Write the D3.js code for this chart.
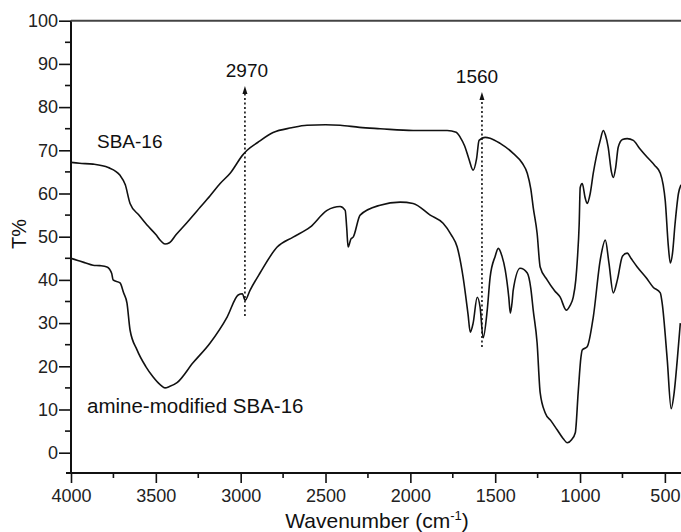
<!DOCTYPE html>
<html>
<head>
<meta charset="utf-8">
<script src="https://cdn.jsdelivr.net/npm/d3@7"></script>
<style>
    body { margin: 0; background: #fff; }
    svg { display: block; font-family: 'Liberation Sans', Arial, sans-serif; }
</style>
</head>
<body>
<svg id="chart" width="681" height="532"></svg>
<script>
// SBA-16 spectrum (wavenumber, T%)
var sbaWave = [4000, 3950, 3870, 3780, 3711, 3680, 3652, 3600, 3552, 3500, 3470, 3446, 3420, 3380, 3316, 3239, 3180, 3121, 3062, 2986, 2962, 2900, 2809, 2700, 2609, 2500, 2414, 2300, 2178, 1984, 1783, 1730, 1706, 1680, 1655, 1630, 1610, 1595, 1560, 1530, 1471, 1394, 1340, 1311, 1290, 1276, 1253, 1235, 1194, 1150, 1117, 1081, 1060, 1040, 1025, 1016, 1005, 999, 987, 970, 958, 940, 922, 881, 863, 850, 834, 815, 804, 790, 775, 750, 722, 686, 650, 604, 560, 527, 510, 498, 480, 468, 455, 440, 420, 405];
var sbaT = [67.2, 67.0, 66.8, 66.0, 64.2, 62.0, 57.7, 55.0, 52.7, 50.5, 49.0, 48.3, 48.6, 50.5, 53.3, 56.8, 59.5, 62.3, 64.7, 69.0, 70.0, 71.8, 74.1, 75.2, 75.8, 75.9, 75.8, 75.3, 75.0, 74.6, 74.6, 74.2, 73.0, 71.0, 68.0, 65.4, 68.0, 72.3, 73.0, 72.8, 71.6, 69.3, 67.0, 64.7, 61.0, 56.8, 50.8, 43.0, 40.0, 37.5, 36.0, 33.0, 34.0, 36.0, 40.0, 44.6, 53.0, 61.4, 62.3, 59.0, 57.7, 60.0, 64.7, 72.3, 74.6, 73.5, 70.7, 65.0, 63.7, 66.0, 70.7, 72.5, 72.7, 72.3, 70.5, 68.4, 66.5, 64.7, 62.0, 58.4, 48.0, 43.9, 46.2, 53.0, 60.0, 62.0];

// amine-modified SBA-16 spectrum
var amineWave = [4000, 3960, 3920, 3870, 3830, 3788, 3760, 3752, 3711, 3690, 3670, 3652, 3611, 3560, 3517, 3470, 3446, 3420, 3375, 3281, 3180, 3080, 3015, 2990, 2974, 2945, 2886, 2785, 2691, 2591, 2491, 2414, 2384, 2375, 2367, 2350, 2337, 2296, 2178, 2060, 1984, 1883, 1807, 1760, 1724, 1689, 1660, 1647, 1630, 1606, 1589, 1571, 1547, 1530, 1500, 1482, 1460, 1441, 1420, 1411, 1400, 1394, 1353, 1311, 1290, 1276, 1253, 1235, 1205, 1170, 1135, 1100, 1075, 1050, 1028, 1011, 995, 987, 958, 922, 881, 851, 830, 804, 780, 750, 722, 700, 663, 610, 569, 527, 516, 486, 463, 445, 427, 409];
var amineT = [45.0, 44.5, 44.0, 43.4, 43.3, 43.0, 41.5, 40.0, 39.3, 37.0, 34.6, 28.4, 23.8, 20.0, 17.6, 15.6, 15.0, 15.3, 16.2, 20.8, 25.4, 31.4, 36.5, 36.8, 35.3, 37.6, 41.6, 47.6, 49.9, 52.2, 56.1, 57.0, 56.1, 52.0, 47.6, 49.5, 49.9, 55.0, 57.3, 58.0, 57.7, 55.0, 53.1, 50.5, 47.6, 40.6, 32.0, 27.9, 30.0, 36.0, 33.7, 26.6, 33.0, 40.6, 45.5, 47.3, 45.5, 42.3, 36.0, 32.3, 35.0, 37.6, 42.7, 41.6, 38.0, 33.0, 25.4, 13.9, 9.2, 7.3, 5.3, 3.3, 2.3, 3.0, 4.6, 13.9, 22.0, 23.8, 24.5, 31.4, 44.6, 49.2, 44.0, 37.0, 40.0, 45.5, 46.2, 45.0, 43.0, 40.5, 38.3, 37.0, 34.6, 21.5, 10.2, 14.0, 21.5, 30.0];

var seriesLabels = ['SBA-16', 'amine-modified SBA-16'];
var xTicks = [4000, 3500, 3000, 2500, 2000, 1500, 1000, 500];
var yTicks = [0, 10, 20, 30, 40, 50, 60, 70, 80, 90, 100];
// peak markers: position on the axis, printed label
var peakWave = [2975, 1578];
var peakLabels = ['2970', '1560'];

var svg = d3.select('#chart');

var plotLeft = 71;
var plotRight = 681;
var plotTop = 20.7;
var plotBottom = 473;

var x = d3.scaleLinear()
    .domain([4000, 405])
    .range([plotLeft, plotRight]);

var y = d3.scaleLinear()
    .domain([-4.7, 100])
    .range([plotBottom, plotTop]);

svg.append('defs')
    .append('clipPath')
    .attr('id', 'plot-clip')
    .append('rect')
    .attr('x', plotLeft)
    .attr('y', plotTop)
    .attr('width', plotRight - plotLeft)
    .attr('height', plotBottom - plotTop);

// minor ticks
var xMinor = d3.range(3750, 400, -500);
var yMinor = d3.range(5, 100, 10);

svg.selectAll('.x-minor')
    .data(xMinor)
    .enter()
    .append('line')
    .attr('class', 'x-minor')
    .attr('x1', function (d) { return x(d); })
    .attr('x2', function (d) { return x(d); })
    .attr('y1', plotBottom)
    .attr('y2', plotBottom + 5)
    .attr('stroke', '#111')
    .attr('stroke-width', 1.6);

svg.selectAll('.y-minor')
    .data(yMinor)
    .enter()
    .append('line')
    .attr('class', 'y-minor')
    .attr('x1', plotLeft - 6)
    .attr('x2', plotLeft)
    .attr('y1', function (d) { return y(d); })
    .attr('y2', function (d) { return y(d); })
    .attr('stroke', '#111')
    .attr('stroke-width', 1.6);

// axes
var xAxis = d3.axisBottom(x)
    .tickValues(xTicks)
    .tickFormat(d3.format('d'))
    .tickSize(10)
    .tickPadding(6)
    .tickSizeOuter(0);

var yAxis = d3.axisLeft(y)
    .tickValues(yTicks)
    .tickFormat(d3.format('d'))
    .tickSize(12)
    .tickPadding(1)
    .tickSizeOuter(0);

var gx = svg.append('g')
    .attr('transform', `translate(0, ${plotBottom})`)
    .call(xAxis);

var gy = svg.append('g')
    .attr('transform', `translate(${plotLeft}, 0)`)
    .call(yAxis);

[gx, gy].forEach(function (g) {
    g.select('.domain').remove();
    g.selectAll('.tick line')
        .attr('stroke', '#111')
        .attr('stroke-width', 1.6);
    g.selectAll('.tick text')
        .attr('fill', '#222')
        .style('font-family', "'Liberation Sans', Arial, sans-serif")
        .style('font-size', '18px');
});

// axis lines and top frame
svg.append('line')
    .attr('x1', plotLeft - 5)
    .attr('x2', plotRight)
    .attr('y1', plotBottom)
    .attr('y2', plotBottom)
    .attr('stroke', '#111')
    .attr('stroke-width', 2);

svg.append('line')
    .attr('x1', plotLeft)
    .attr('x2', plotLeft)
    .attr('y1', plotTop)
    .attr('y2', plotBottom)
    .attr('stroke', '#111')
    .attr('stroke-width', 2);

svg.append('line')
    .attr('x1', plotLeft)
    .attr('x2', plotRight)
    .attr('y1', plotTop)
    .attr('y2', plotTop)
    .attr('stroke', '#444')
    .attr('stroke-width', 2);

// spectra
var line = d3.line()
    .x(function (d) { return x(d[0]); })
    .y(function (d) { return y(d[1]); })
    .curve(d3.curveMonotoneX);

var spectra = [
    d3.zip(sbaWave, sbaT),
    d3.zip(amineWave, amineT)
];

svg.append('g')
    .attr('clip-path', 'url(#plot-clip)')
    .selectAll('.spectrum')
    .data(spectra)
    .enter()
    .append('path')
    .attr('class', 'spectrum')
    .attr('fill', 'none')
    .attr('stroke', '#111')
    .attr('stroke-width', 1.6)
    .attr('stroke-linejoin', 'round')
    .attr('d', line);

// series labels
svg.append('text')
    .attr('x', 97)
    .attr('y', 148)
    .attr('font-size', '19px')
    .attr('fill', '#111')
    .text(seriesLabels[0]);

svg.append('text')
    .attr('x', 87)
    .attr('y', 413)
    .attr('font-size', '20.5px')
    .attr('fill', '#111')
    .text(seriesLabels[1]);

// peak markers: dotted line with arrow head
var peakTip = [86, 92];
var peakEnd = [316, 347];
var peakTextY = [77, 83];
var peakTextDx = [2, -5];

peakWave.forEach(function (w, i) {
    var px = x(w);

    svg.append('line')
        .attr('x1', px)
        .attr('x2', px)
        .attr('y1', peakEnd[i])
        .attr('y2', peakTip[i] + 6)
        .attr('stroke', '#111')
        .attr('stroke-width', 1.6)
        .attr('stroke-dasharray', '2,2.5');

    svg.append('path')
        .attr('d', `M${px},${peakTip[i]} L${px + 2.5},${peakTip[i] + 8} L${px - 2.5},${peakTip[i] + 8} Z`)
        .attr('fill', '#111');

    svg.append('text')
        .attr('x', px + peakTextDx[i])
        .attr('y', peakTextY[i])
        .attr('text-anchor', 'middle')
        .attr('font-size', '19px')
        .attr('fill', '#111')
        .text(peakLabels[i]);
});

// axis titles
svg.append('text')
    .attr('transform', 'translate(26, 234) rotate(-90)')
    .attr('text-anchor', 'middle')
    .attr('font-size', '20px')
    .attr('fill', '#111')
    .text('T%');

var xTitle = svg.append('text')
    .attr('x', 377)
    .attr('y', 528)
    .attr('text-anchor', 'middle')
    .attr('font-size', '21px')
    .attr('fill', '#111');
xTitle.append('tspan').text('Wavenumber (cm');
xTitle.append('tspan')
    .attr('dy', -8)
    .attr('font-size', '13px')
    .text('-1');
xTitle.append('tspan')
    .attr('dy', 8)
    .text(')');
</script>
</body>
</html>
